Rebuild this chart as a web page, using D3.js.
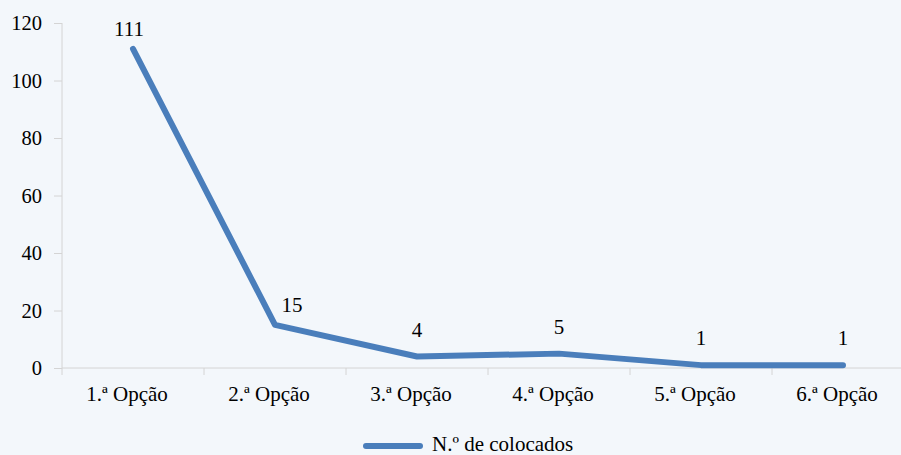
<!DOCTYPE html>
<html><head><meta charset="utf-8">
<script src="https://cdn.jsdelivr.net/npm/d3@7"></script>
<style>html,body{margin:0;padding:0;background:#f3f7fb;}svg{display:block;}</style>
</head><body>
<svg id="c" width="901" height="455"></svg>
<script>
const categories = ["1.ª Opção","2.ª Opção","3.ª Opção","4.ª Opção","5.ª Opção","6.ª Opção"];
const values = [111, 15, 4, 5, 1, 1];
const yTicks = [0, 20, 40, 60, 80, 100, 120];
const seriesName = "N.º de colocados";

const svg = d3.select("#c");
const font = "Liberation Serif";
const fs = 21;
svg.append("rect").attr("width",901).attr("height",455).attr("fill","#f3f7fb");

const x = d3.scaleBand().domain(categories).range([62, 914]);
const y = d3.scaleLinear().domain([0,120]).range([368, 23]);
const axisColor = "#d4d4d4";

// y axis
const ya = svg.append("g").attr("transform","translate(62,0)")
  .call(d3.axisLeft(y).tickValues(yTicks).tickSize(8).tickPadding(12));
ya.attr("font-family",font);
ya.select(".domain").attr("stroke",axisColor).attr("d","M0,23V368");
ya.selectAll(".tick line").attr("stroke",axisColor);
ya.selectAll(".tick text").style("font-family",font).attr("font-size",20.5).attr("fill","#000");

// x axis
const xa = svg.append("g").attr("transform","translate(0,368)")
  .call(d3.axisBottom(x).tickSize(0).tickPadding(18));
xa.attr("font-family",font);
xa.select(".domain").attr("stroke",axisColor).attr("d","M62,0H914");
xa.selectAll(".tick text").style("font-family",font).attr("font-size",fs).attr("fill","#000")
  .attr("dx",-6);
// category boundary ticks
svg.append("g").selectAll("line").data(categories).join("line")
  .attr("x1",d=>x(d)).attr("x2",d=>x(d)).attr("y1",368).attr("y2",375)
  .attr("stroke",axisColor);

// line
const line = d3.line().x((d,i)=>x(categories[i])+x.bandwidth()/2).y(d=>y(d));
svg.append("path").datum(values).attr("d",line).attr("fill","none")
  .attr("stroke","#4a7ebb").attr("stroke-width",6)
  .attr("stroke-linejoin","round").attr("stroke-linecap","round");

// data labels
svg.append("g").selectAll("text").data(values).join("text")
  .attr("x",(d,i)=>x(categories[i])+x.bandwidth()/2 + (i===1?17:(i===0?-4:0)))
  .attr("y",(d,i)=>y(d) - (i<2?13:20))
  .attr("text-anchor","middle").style("font-family",font).attr("font-size",fs)
  .attr("fill","#000").text(d=>d);

// legend
svg.append("line").attr("x1",366).attr("x2",420).attr("y1",446).attr("y2",446)
  .attr("stroke","#4a7ebb").attr("stroke-width",6).attr("stroke-linecap","round");
svg.append("text").attr("x",432).attr("y",451).style("font-family",font).attr("font-size",fs)
  .attr("fill","#000").text(seriesName);
</script>
</body></html>
